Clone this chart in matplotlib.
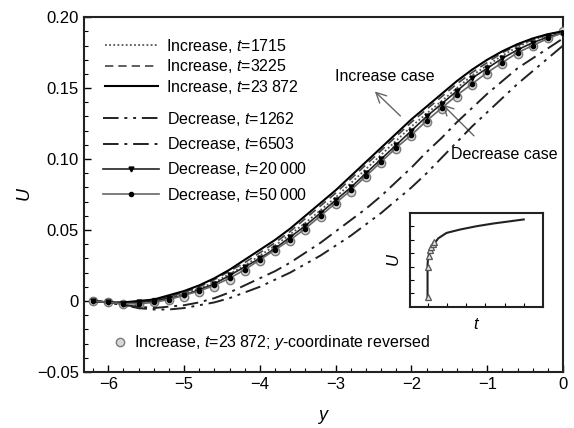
import matplotlib
matplotlib.use('Agg')
import matplotlib.pyplot as plt
from matplotlib.lines import Line2D

plt.rcParams['font.family'] = ['Liberation Sans', 'DejaVu Sans']
plt.rcParams['mathtext.fontset'] = 'custom'
plt.rcParams['mathtext.it'] = 'Liberation Sans:italic'
plt.rcParams['mathtext.rm'] = 'Liberation Sans'

# wall-normal coordinate
y = [-6.2, -6.0, -5.8, -5.6, -5.4, -5.2, -5.0, -4.8, -4.6, -4.4, -4.2, -4.0,
     -3.8, -3.6, -3.4, -3.2, -3.0, -2.8, -2.6, -2.4, -2.2, -2.0, -1.8, -1.6,
     -1.4, -1.2, -1.0, -0.8, -0.6, -0.4, -0.2, 0.0]

inc_1715 = [0.000, -0.001, -0.002, -0.001, 0.000, 0.002, 0.005, 0.009, 0.013, 0.019, 0.025, 0.032,
            0.039, 0.047, 0.055, 0.064, 0.073, 0.083, 0.093, 0.103, 0.113, 0.123, 0.132, 0.141,
            0.150, 0.159, 0.166, 0.173, 0.179, 0.184, 0.187, 0.190]
inc_3225 = [0.000, -0.001, -0.001, -0.001, 0.001, 0.003, 0.006, 0.010, 0.015, 0.021, 0.027, 0.034,
            0.041, 0.049, 0.058, 0.067, 0.076, 0.086, 0.096, 0.106, 0.116, 0.126, 0.135, 0.144,
            0.153, 0.161, 0.168, 0.175, 0.180, 0.184, 0.188, 0.190]
inc_23872 = [0.000, -0.001, -0.001, 0.000, 0.001, 0.004, 0.007, 0.011, 0.016, 0.022, 0.029, 0.036,
             0.043, 0.051, 0.060, 0.069, 0.078, 0.088, 0.098, 0.108, 0.118, 0.128, 0.137, 0.146,
             0.155, 0.163, 0.170, 0.176, 0.181, 0.185, 0.188, 0.190]
dec_1262 = [0.000, -0.001, -0.003, -0.005, -0.006, -0.006, -0.005, -0.003, -0.001, 0.002, 0.006, 0.010,
            0.015, 0.020, 0.026, 0.032, 0.039, 0.046, 0.054, 0.062, 0.071, 0.080, 0.090, 0.101,
            0.112, 0.123, 0.133, 0.143, 0.153, 0.162, 0.171, 0.180]
dec_6503 = [0.000, -0.001, -0.003, -0.004, -0.005, -0.004, -0.003, -0.001, 0.002, 0.006, 0.011, 0.016,
            0.021, 0.027, 0.034, 0.041, 0.049, 0.057, 0.065, 0.074, 0.084, 0.094, 0.105, 0.115,
            0.126, 0.136, 0.146, 0.155, 0.164, 0.171, 0.178, 0.185]
dec_20000 = [0.000, -0.001, -0.002, -0.001, 0.000, 0.002, 0.004, 0.008, 0.012, 0.018, 0.024, 0.030,
             0.037, 0.045, 0.053, 0.062, 0.071, 0.080, 0.090, 0.100, 0.110, 0.120, 0.130, 0.139,
             0.148, 0.157, 0.164, 0.171, 0.177, 0.182, 0.186, 0.189]
dec_50000 = [0.000, -0.001, -0.002, -0.002, -0.001, 0.001, 0.004, 0.007, 0.011, 0.016, 0.022, 0.029,
             0.036, 0.043, 0.051, 0.060, 0.069, 0.078, 0.088, 0.098, 0.108, 0.117, 0.127, 0.136,
             0.145, 0.153, 0.161, 0.168, 0.175, 0.180, 0.185, 0.189]
inc_rev = [0.000, -0.001, -0.002, -0.002, -0.001, 0.001, 0.003, 0.006, 0.010, 0.015, 0.021, 0.028,
           0.035, 0.042, 0.050, 0.059, 0.068, 0.077, 0.087, 0.097, 0.107, 0.116, 0.126, 0.135,
           0.144, 0.152, 0.160, 0.167, 0.174, 0.180, 0.185, 0.190]

# inset: centreline velocity history (t in units of 1e4)
t_hist = [0.0, 0.0, 0.02, 0.07, 0.17, 0.30, 0.56, 0.99, 1.69, 2.56, 3.43, 5.0]
u_hist = [0.7, 3.1, 3.5, 3.9, 4.25, 4.6, 5.1, 5.5, 5.75, 6.0, 6.2, 6.5]
t_tri = [0.0, 0.01, 0.06, 0.12, 0.20, 0.28, 0.36]
u_tri = [0.7, 3.0, 3.8, 4.2, 4.45, 4.65, 4.8]

yticks = [-0.05, 0, 0.05, 0.10, 0.15, 0.20]
ytick_labels = ['\u22120.05', '0', '0.05', '0.10', '0.15', '0.20']

fig = plt.figure(figsize=(5.74, 4.28), dpi=100)
ax = fig.add_axes([0.1463, 0.131, 0.8347, 0.829])

ax.plot(y, inc_rev, ls='none', marker='o', ms=6, mfc='#d8d8d8', mec='#7a7a7a', mew=1.0, zorder=3)
l_1715, = ax.plot(y, inc_1715, color='#555555', lw=1.3, ls=(0, (1, 1.3)), zorder=4)
l_3225, = ax.plot(y, inc_3225, color='#444444', lw=1.2, ls=(0, (5, 3)), zorder=4)
l_23872, = ax.plot(y, inc_23872, color='black', lw=1.5, zorder=4)
l_1262, = ax.plot(y, dec_1262, color='#222222', lw=1.4, ls=(0, (8, 3, 1.5, 3, 1.5, 3)), zorder=4)
l_6503, = ax.plot(y, dec_6503, color='#222222', lw=1.4, ls=(0, (8, 3, 1.5, 3)), zorder=4)
l_20000, = ax.plot(y, dec_20000, color='#222222', lw=1.2, marker='v', ms=3.5, mfc='black', mec='black', zorder=5)
l_50000, = ax.plot(y, dec_50000, color='#666666', lw=1.2, marker='o', ms=3, mfc='black', mec='black', zorder=5)

ax.set_xlim(-6.32, 0)
ax.set_ylim(-0.05, 0.20)
ax.set_yticks(yticks)
ax.set_yticklabels(ytick_labels)
ax.set_xticks([-6, -5, -4, -3, -2, -1, 0])
ax.xaxis.set_minor_locator(matplotlib.ticker.MultipleLocator(0.2))
ax.yaxis.set_minor_locator(matplotlib.ticker.MultipleLocator(0.01))
ax.tick_params(which='both', direction='in', labelsize=12, top=False, right=False)
ax.tick_params(which='major', length=5, width=1)
ax.tick_params(which='minor', length=3, width=0.8)
for s in ax.spines.values():
    s.set_linewidth(1.5)
    s.set_color('#222222')
ax.set_xlabel('$y$', fontsize=13, labelpad=12)
ax.set_ylabel('$U$', fontsize=13, labelpad=2)

# legends
leg1 = ax.legend([l_1715, l_3225, l_23872],
                 ['Increase, $t$=1715', 'Increase, $t$=3225', 'Increase, $t$=23\u2009872'],
                 loc='upper left', bbox_to_anchor=(0.044, 0.944), frameon=False, fontsize=11.5,
                 handlelength=3.3, handletextpad=0.5, labelspacing=0.15, borderpad=0, borderaxespad=0)
ax.add_artist(leg1)
leg2 = ax.legend([l_1262, l_6503, l_20000, l_50000],
                 ['Decrease, $t$=1262', 'Decrease, $t$=6503', 'Decrease, $t$=20\u2009000',
                  'Decrease, $t$=50\u2009000'],
                 loc='upper left', bbox_to_anchor=(0.040, 0.738), frameon=False, fontsize=11.5,
                 handlelength=3.5, handletextpad=0.5, labelspacing=0.45, borderpad=0, borderaxespad=0,
                 numpoints=1)
ax.add_artist(leg2)
circ = Line2D([], [], ls='none', marker='o', ms=6, mfc='#d8d8d8', mec='#7a7a7a', mew=1.0)
ax.legend([circ], ['Increase, $t$=23\u2009872; $y$-coordinate reversed'],
          loc='center left', bbox_to_anchor=(0.058, 0.082), frameon=False, fontsize=11.5,
          handlelength=1.0, handletextpad=0.4, borderpad=0, borderaxespad=0)

# annotations
ax.text(-2.35, 0.158, 'Increase case', fontsize=11.5, ha='center', va='center')
ax.annotate('', xy=(-2.51, 0.149), xytext=(-2.12, 0.129),
            arrowprops=dict(arrowstyle='->', color='#666666', lw=1.0, mutation_scale=18))
ax.text(-0.78, 0.1035, 'Decrease case', fontsize=11.5, ha='center', va='center')
ax.annotate('', xy=(-1.62, 0.140), xytext=(-1.15, 0.115),
            arrowprops=dict(arrowstyle='->', color='#666666', lw=1.0, mutation_scale=18))

# inset
axi = fig.add_axes([0.714, 0.283, 0.232, 0.220])
axi.plot(t_hist, u_hist, color='#222222', lw=1.5)
axi.plot(t_tri, u_tri, ls='none', marker='^', ms=5, mfc='#e0e0e0', mec='#555555', mew=0.9)
axi.set_xlim(-0.92, 6.0)
axi.set_ylim(0, 7)
axi.set_xticks([0, 1, 2, 3, 4, 5])
axi.set_yticks([1, 2, 3, 4, 5, 6])
axi.set_xticklabels([])
axi.set_yticklabels([])
axi.tick_params(direction='in', length=3, width=0.8)
for s in axi.spines.values():
    s.set_linewidth(1.5)
    s.set_color('#222222')
axi.set_xlabel('$t$', fontsize=12, labelpad=4)
axi.set_ylabel('$U$', fontsize=12, labelpad=2)

fig.savefig('out.png', dpi=100)
